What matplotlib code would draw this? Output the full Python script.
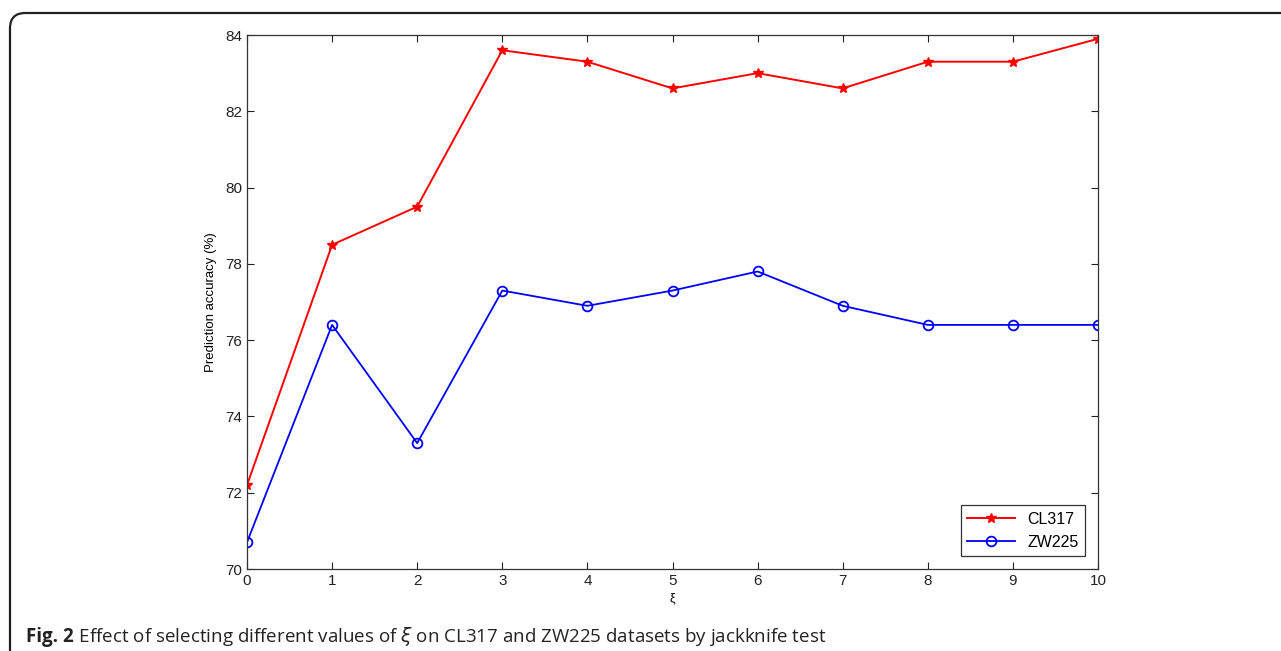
import matplotlib
matplotlib.use("Agg")
import matplotlib.pyplot as plt
from matplotlib.patches import FancyBboxPatch

# data
xi = [0, 1, 2, 3, 4, 5, 6, 7, 8, 9, 10]
cl317 = [72.2, 78.5, 79.5, 83.6, 83.3, 82.6, 83.0, 82.6, 83.3, 83.3, 83.9]
zw225 = [70.7, 76.4, 73.3, 77.3, 76.9, 77.3, 77.8, 76.9, 76.4, 76.4, 76.4]
yticks = [70, 72, 74, 76, 78, 80, 82, 84]

plt.rcParams['font.family'] = ['Liberation Sans', 'DejaVu Sans']

fig = plt.figure(figsize=(12.81, 6.51), dpi=100)

# rounded frame around the figure (only top and left edges visible)
frame = FancyBboxPatch((10 / 1281, -0.2), 1.2, 1.2 - 13 / 651,
                       boxstyle="round,pad=0,rounding_size=0.012",
                       transform=fig.transFigure, fill=False,
                       edgecolor="#222222", linewidth=1.6, clip_on=False,
                       mutation_aspect=1281 / 651)
fig.add_artist(frame)

ax = fig.add_axes([247 / 1281, 1 - 569 / 651, (1098 - 247) / 1281, (569 - 35) / 651])

ax.plot(xi, cl317, color="#ff0000", marker="*", markersize=7, linewidth=1.4, label="CL317")
ax.plot(xi, zw225, color="#0000ff", marker="o", markersize=7, markerfacecolor="none",
        markeredgewidth=1.3, linewidth=1.3, label="ZW225")

ax.set_xlim(0, 10)
ax.set_ylim(70, 84)
ax.set_xticks(xi)
ax.set_yticks(yticks)
ax.tick_params(direction="in", top=True, right=True, labelsize=11, length=5,
               width=0.8, colors="#222222")
for s in ax.spines.values():
    s.set_color("#333333")
    s.set_linewidth(0.9)

ax.set_xlabel("ξ", fontsize=9, labelpad=3)
ax.set_ylabel("Prediction accuracy (%)", fontsize=9.5, labelpad=6)

leg = ax.legend(loc="lower right", fontsize=11.5, fancybox=False, framealpha=1,
                edgecolor="#333333", handlelength=3.0, borderaxespad=0.8)
leg.get_frame().set_linewidth(0.9)

# caption: bold part then the rest on the same baseline
cap_y = 1 - 642 / 651
t1 = fig.text(26 / 1281, cap_y, "Fig. 2", fontsize=13.5, fontweight="bold", va="baseline",
              family=["Open Sans", "DejaVu Sans"], color="#222222")
r = fig.canvas.get_renderer()
bb = t1.get_window_extent(renderer=r)
fig.text(bb.x1 / fig.bbox.width, cap_y,
         " Effect of selecting different values of $\\xi$ on CL317 and ZW225 datasets by jackknife test",
         fontsize=13.5, va="baseline", family=["Open Sans", "DejaVu Sans"], color="#222222")

fig.savefig("out.png", dpi=100)
